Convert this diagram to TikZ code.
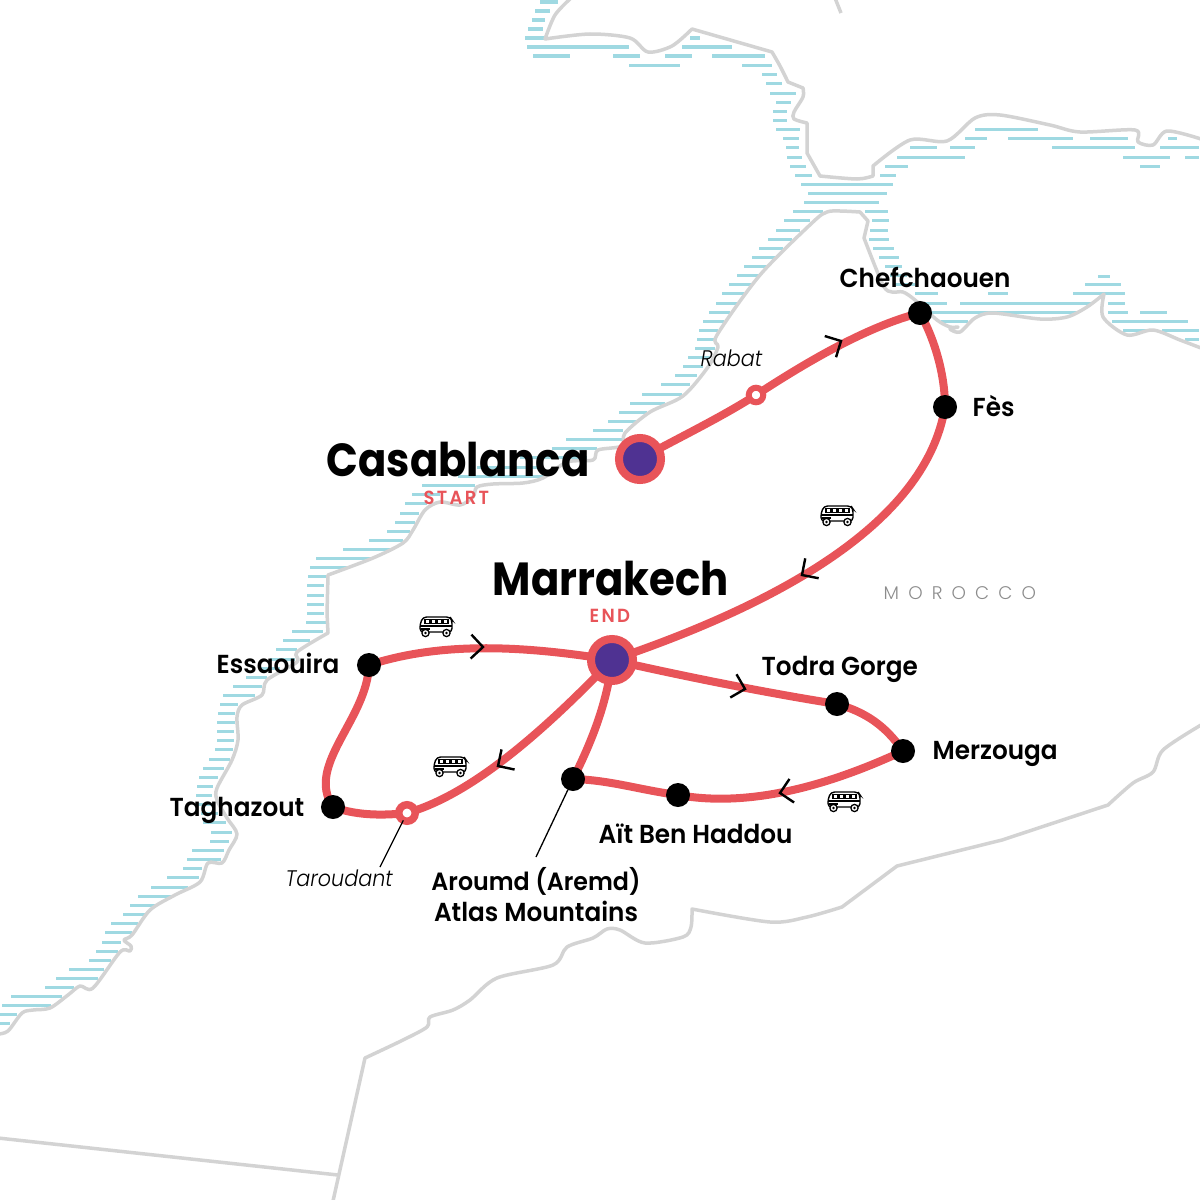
\documentclass[tikz,border=0pt]{standalone}
\usepackage{fontspec}
\usetikzlibrary{backgrounds}
\newfontfamily\labelfont{Poppins SemiBold}[FakeStretch=0.95]
\newfontfamily\cityfont{Poppins Bold}[FakeStretch=0.9]
\newfontfamily\noteFont{Poppins Light Italic}[FakeStretch=0.92]
\newfontfamily\countryfont{Poppins Light}
\definecolor{routered}{HTML}{E85459}
\definecolor{hubpurple}{HTML}{4F3292}
\definecolor{seablue}{HTML}{9FD9E2}
\definecolor{bordergray}{HTML}{D3D3D3}
\tikzset{bus/.pic={
	\draw[line width=1.4*0.01cm, fill=white, rounded corners=1pt] (-16,5) -- (-16,-3) -- (-13,-10) -- (14,-10) -- (16,-7) -- (16,5) -- cycle;
	\draw[line width=1.1*0.01cm] (-16,-1) -- (16,-1) (-15,2) -- (-6,2);
	\foreach \wx in {-11,-5,1,7}
		\draw[line width=1.1*0.01cm] (\wx,-7.5) rectangle ++(5,4);
	\foreach \wx in {-10.5,10.5} {
		\draw[line width=1.3*0.01cm, fill=white] (\wx,6) circle (3.6);
		\fill (\wx,6) circle (1.3);
	}
}}
\begin{document}
\begin{tikzpicture}[x=0.01cm,y=-0.01cm]
	\useasboundingbox (0,0) rectangle (1200,1200);
	\tikzstyle{route}=[draw=routered, line width=0.08cm]
	\tikzstyle{border}=[draw=bordergray, line width=0.035cm, line join=round]
	\tikzstyle{seastripe}=[draw=seablue, line width=0.03cm]
	\tikzstyle{leader}=[draw=black, line width=0.013cm]
	\tikzstyle{chevron}=[draw=black, line width=0.024cm]
	\tikzstyle{curvy}=[smooth, tension=0.5]
	\tikzstyle{hubring}=[circle, draw=routered, fill=hubpurple, line width=0.08cm, minimum size=0.42cm, inner sep=0pt, outer sep=0pt]
	\tikzstyle{stopdot}=[circle, fill=black, minimum size=0.24cm, inner sep=0pt, outer sep=0pt]
	\tikzstyle{haltring}=[circle, draw=routered, fill=white, line width=0.06cm, minimum size=0.145cm, inner sep=0pt, outer sep=0pt]
	\tikzstyle{placename}=[anchor=base west, inner sep=0pt, font=\labelfont\fontsize{7.4}{8.8}\selectfont]
	\tikzstyle{cityname}=[anchor=base west, inner sep=0pt, font=\cityfont\fontsize{13.2}{15}\selectfont]
	\tikzstyle{notename}=[anchor=base west, inner sep=0pt, font=\noteFont\fontsize{6.4}{8}\selectfont]
	\tikzstyle{endname}=[anchor=base west, inner sep=0pt, text=routered, font=\labelfont\fontsize{5.4}{6}\selectfont\addfontfeature{LetterSpace=12}]

	% stops
	\node[hubring] (casablanca) at (640,459) {};
	\node[hubring] (marrakech) at (612,660) {};
	\node[haltring] (rabat) at (756,395) {};
	\node[haltring, minimum size=0.165cm, line width=0.075cm] (taroudant) at (407,813) {};
	\node[stopdot] (chefchaouen) at (920,313) {};
	\node[stopdot] (fes) at (945,407) {};
	\node[stopdot] (essaouira) at (369,665) {};
	\node[stopdot] (taghazout) at (333,807) {};
	\node[stopdot] (aroumd) at (573,779) {};
	\node[stopdot] (aitben) at (678,795) {};
	\node[stopdot] (merzouga) at (903,751) {};
	\node[stopdot] (todra) at (837,704) {};

	\begin{scope}[on background layer]
		% sea stripes, row by row
		\foreach \y/\a/\b in {2/540/558, 11/535/550, 20/532/545, 29/528/543, 38/525/545, 38/690/700, 47/527/629, 47/682/732,
			56/533/570, 56/613/640, 56/665/692, 56/712/765, 65/629/680, 65/742/772, 74/762/777, 83/766/782, 93/770/796, 102/776/791,
			111/773/787, 120/773/787, 129/776/800, 138/783/799, 147/786/799, 157/787/802, 166/790/806, 175/795/812, 184/801/893,
			193/808/887, 202/804/879, 211/793/823, 211/865/888, 220/784/810, 220/872/889, 230/776/800, 230/870/888, 239/768/792,
			239/869/889, 248/759/783, 248/873/894, 257/752/775, 257/879/899, 266/744/767, 266/885/902, 275/737/759, 275/890/907,
			284/729/752, 284/895/915, 293/722/744, 303/716/737, 312/709/730, 321/703/724, 330/699/718, 339/697/714, 348/695/715,
			357/688/710, 366/683/703, 375/675/697, 384/661/690, 394/642/682, 403/630/665, 412/619/647, 421/608/637, 430/593/623,
			439/566/622, 448/552/597, 457/520/587, 467/477/540, 476/458/543, 485/422/475, 494/412/440, 503/405/427, 513/400/419,
			522/395/415, 531/387/410, 540/369/403, 549/343/392, 558/316/373, 567/310/347, 576/308/326, 585/307/324, 595/307/324,
			604/307/324, 613/307/324, 622/306/326, 631/292/323, 640/283/310, 649/276/297, 659/270/295, 668/260/280, 677/246/267,
			686/233/262, 695/223/255, 704/220/238, 713/218/235, 722/217/235, 731/217/234, 740/217/234, 749/215/233, 759/209/230,
			768/203/224, 777/199/218, 786/197/213, 795/196/212, 804/198/215, 813/201/218, 822/203/226, 832/211/232, 841/210/229,
			850/192/224, 859/187/221, 868/183/202, 877/167/199, 887/151/188, 896/138/172, 905/130/155, 914/123/145, 923/111/138,
			932/105/132, 942/102/121, 951/96/118, 960/89/111, 969/69/104, 978/56/98, 987/45/74, 996/11/62, 1005/2/51, 1014/0/17, 1023/0/10,
			% mediterranean side
			129/975/1038, 138/965/987, 138/1008/1073, 138/1090/1128, 138/1168/1177, 147/910/937, 147/950/975, 147/1052/1135,
			147/1160/1199, 157/897/965, 157/1123/1170, 157/1185/1199, 166/885/908, 166/1140/1160, 175/880/896,
			276/1098/1110, 284/1085/1121, 293/915/938, 293/988/1008, 293/1073/1125, 303/923/947, 303/960/1093, 303/1108/1125,
			312/932/1077, 312/1108/1128, 312/1140/1167, 321/941/968, 321/1112/1188, 330/1123/1148, 330/1162/1199, 339/1185/1199}
			\draw[seastripe] (\a,\y) -- (\b,\y);

		% coast lines and borders
		\draw[border] plot[curvy] coordinates {(571,-2) (555,15) (545,39)}
			-- plot[curvy] coordinates {(545,39) (590,34) (630,38) (648,52) (672,46) (692,29)}
			-- plot[curvy] coordinates {(772,52) (780,66) (788,82)}
			-- plot[curvy] coordinates {(803,88) (803,97) (794,112) (794,119) (807,123)}
			-- (807,153) -- plot[curvy] coordinates {(820,176) (857,179) (873,176)}
			-- plot[curvy] coordinates {(873,166) (910,140) (947,141) (975,118) (1000,115) (1050,125) (1080,132) (1135,130) (1138,142) (1153,145) (1167,131) (1201,139)};
		\draw[border] (835,-2) -- (841,13);
		\draw[border] plot[curvy] coordinates {(-2,1034) (8,1031) (22,1013) (33,1010) (50,1008) (68,995) (80,986) (93,988) (120,952) (130,951) (131,946) (124,940) (132,935) (150,910) (175,895) (200,882) (208,863) (222,863) (229,850) (237,834) (227,818) (217,800) (217,788) (232,760) (238,740) (237,717) (242,705) (262,695) (267,680) (297,662) (297,652) (328,633)}
			-- (327,613) -- plot[curvy] coordinates {(328,575) (373,558) (403,543) (413,530) (425,510) (440,502) (460,505) (473,497) (477,487) (493,484) (523,483) (543,478) (567,462) (593,460) (598,450) (622,446) (625,433) (650,412) (683,396) (708,367) (718,347) (717,335) (760,275) (813,222) (827,212) (840,211) (860,212)}
			-- plot[curvy] coordinates {(868,221) (864,238)}
			-- plot[curvy] coordinates {(864,238) (883,285) (892,292) (903,292) (915,300) (937,320) (950,327) (958,327) (950,329) (960,332) (975,318) (993,313) (1040,319) (1067,317) (1087,307) (1104,294)}
			-- plot[curvy] coordinates {(1104,294) (1103,317) (1127,335) (1153,330) (1180,340) (1201,348)};
		\draw[border] (333,1201) -- plot[curvy] coordinates {(365,1058) (403,1040) (427,1027) (430,1017) (453,1010) (470,1000) (497,978) (553,965) (567,947) (593,938) (607,929) (620,930) (645,943) (683,937) (691,927) (692,909)}
			-- plot[curvy] coordinates {(692,909) (770,922) (807,917) (842,907)}
			-- (897,866) -- (1002,840) -- plot[curvy] coordinates {(1108,805) (1133,783) (1153,772) (1163,750) (1201,725)};
		\draw[border] (-2,1138) -- (338,1175);

		% the route
		\draw[route] (casablanca.center) .. controls (680,437) and (720,418) .. (rabat.center);
		\draw[route] (rabat.center) .. controls (790,373) and (860,328) .. (chefchaouen.center);
		\draw[route] (chefchaouen.center) .. controls (935,340) and (945,375) .. (fes.center);
		\draw[route] (fes.center) .. controls (925,530) and (760,610) .. (marrakech.center);
		\draw[route] (marrakech.center) .. controls (520,645) and (440,642) .. (essaouira.center);
		\draw[route] (essaouira.center) .. controls (367,720) and (305,765) .. (taghazout.center);
		\draw[route] (taghazout.center) .. controls (355,815) and (380,816) .. (taroudant.center);
		\draw[route] (taroudant.center) .. controls (470,795) and (540,735) .. (marrakech.center);
		\draw[route] (marrakech.center) .. controls (607,705) and (590,745) .. (aroumd.center);
		\draw[route] (aroumd.center) .. controls (610,780) and (640,790) .. (aitben.center);
		\draw[route] (aitben.center) .. controls (750,808) and (830,785) .. (merzouga.center);
		\draw[route] (merzouga.center) .. controls (885,725) and (865,712) .. (todra.center);
		\draw[route] (todra.center) .. controls (780,695) and (700,680) .. (marrakech.center);
	\end{scope}

	% direction marks
	\foreach \x/\y/\ang in {841/341/28, 483/647/-2, 745/689/-15, 802/575/214, 498/766/213, 780/793/191}
		\draw[chevron, shift={(\x,\y)}, rotate=\ang] (-12,-12) -- (0,0) -- (-12,12);

	\foreach \x/\y in {837/516, 436/627, 450/767, 844/802}
		\pic at (\x,\y) {bus};

	% leaders
	\coordinate (taroudantEnd) at (380,867);
	\coordinate (aroumdEnd) at (536,857);
	\draw[leader] (taroudant) -- (taroudantEnd);
	\draw[leader] (aroumd) -- (aroumdEnd);

	% labels
	\node[cityname] (casablancaLabel) at (326,476) {Casablanca};
	\node[cityname] (marrakechLabel) at (492,595) {Marrakech};
	\node[endname] (startLabel) at (423,504) {START};
	\node[endname] (endLabel) at (589,622) {END};
	\node[placename] (chefLabel) at (839,287) {Chefchaouen};
	\node[placename] (fesLabel) at (972,416) {Fès};
	\node[placename] (essaouiraLabel) at (216,673) {Essaouira};
	\node[placename] (taghazoutLabel) at (169,816) {Taghazout};
	\node[placename] (todraLabel) at (761,675) {Todra Gorge};
	\node[placename] (merzougaLabel) at (932,759) {Merzouga};
	\node[placename] (aitLabel) at (598,843) {Aït Ben Haddou};
	\node[placename, anchor=base, font=\labelfont\fontsize{7.1}{8.8}\selectfont] (aroumdLabel) at (536,890) {Aroumd (Aremd)};
	\node[placename, anchor=base] (atlasLabel) at (536,921) {Atlas Mountains};
	\node[notename] (rabatLabel) at (700,366) {Rabat};
	\node[notename] (taroudantLabel) at (285,886) {Taroudant};
	\node[anchor=base west, inner sep=0pt, text=black!45, font=\countryfont\fontsize{5.2}{6}\selectfont\addfontfeature{LetterSpace=50}] (moroccoLabel) at (883,599) {MOROCCO};
\end{tikzpicture}
\end{document}
